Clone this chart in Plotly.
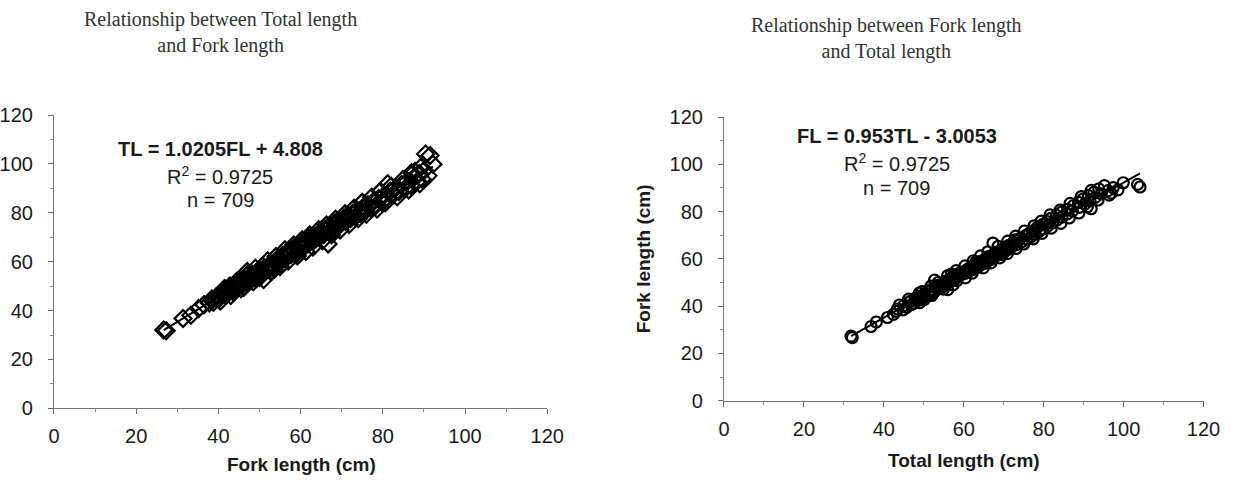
import plotly.graph_objects as go

# Paired measurements (cm): fork length and total length of the same fish
fork_length = [
    26.7, 27.3, 31.4, 33.3, 35.2, 36.5, 37.8, 38.8, 38.4, 39.5,
    40.1, 40.6, 41.2, 41.8, 42.0, 42.5, 43.1, 43.4, 43.9, 44.3,
    44.8, 45.2, 45.6, 46.0, 46.4, 46.9, 47.0, 47.5, 48.0, 48.3,
    48.8, 49.2, 49.7, 50.1, 50.5, 51.0, 51.2, 51.7, 52.1, 52.6,
    53.0, 53.4, 53.9, 54.3, 54.8, 55.2, 55.6, 56.0, 56.4, 56.9,
    57.3, 57.7, 58.1, 58.5, 59.0, 59.4, 59.8, 60.2, 60.7, 61.1,
    61.5, 62.0, 62.4, 62.9, 63.3, 63.8, 64.2, 64.7, 65.1, 65.6,
    66.0, 66.7, 66.9, 67.3, 67.8, 68.3, 68.8, 69.4, 69.9, 70.5,
    71.0, 71.6, 72.1, 72.7, 73.3, 73.9, 74.5, 75.2, 75.8, 76.4,
    77.1, 77.7, 78.4, 79.0, 79.7, 80.3, 81.2, 81.0, 81.8, 82.5,
    83.2, 83.9, 84.6, 85.3, 86.0, 86.8, 87.5, 88.2, 88.9, 89.6,
    90.4, 90.1, 91.0, 91.5, 92.2, 89.2, 87.0, 55.0, 57.5, 60.5,
    62.7, 64.5, 44.0, 46.7, 49.5, 40.5, 41.5, 43.0, 44.5, 45.5,
    47.2, 48.5, 49.0, 50.0, 52.0, 52.8, 54.0, 55.0, 56.2, 57.0,
    58.3, 59.2, 60.4, 61.3, 62.2, 63.0, 64.4, 65.3, 66.3, 67.5,
    68.5, 69.6, 70.8, 71.8, 73.0, 74.0, 75.0, 76.0, 77.3, 78.6,
    79.4, 80.6, 82.0, 83.5, 84.9, 86.3, 87.8, 89.0, 58.8, 61.8,
    64.9, 68.0, 71.3, 74.8, 53.6, 50.8, 46.2, 42.8,
]
total_length = [
    32.1, 31.8, 36.8, 38.1, 40.9, 42.4, 43.1, 43.4, 44.8, 45.7,
    44.9, 46.8, 47.5, 46.3, 46.7, 48.6, 49.2, 47.9, 50.3, 49.1,
    51.4, 50.2, 52.3, 51.1, 52.8, 51.7, 56.0, 53.6, 52.9, 54.8,
    53.5, 55.6, 54.9, 56.4, 55.3, 52.7, 57.4, 56.8, 58.2, 57.3,
    59.1, 58.0, 60.3, 59.2, 61.4, 60.6, 62.5, 61.3, 63.4, 62.2,
    64.1, 63.0, 65.2, 64.3, 65.9, 64.8, 66.9, 65.6, 67.5, 66.4,
    68.3, 67.6, 69.4, 68.2, 70.4, 69.5, 71.3, 70.2, 72.0, 71.1,
    73.2, 67.3, 72.4, 74.6, 73.5, 75.8, 74.2, 76.9, 75.6, 77.8,
    76.5, 78.9, 77.6, 79.8, 78.4, 81.0, 79.7, 82.2, 80.9, 83.3,
    81.8, 84.6, 83.2, 85.9, 84.4, 87.2, 91.9, 86.0, 88.9, 87.4,
    90.3, 88.7, 91.6, 89.8, 92.9, 91.2, 94.4, 92.6, 96.1, 93.8,
    104.1, 97.4, 95.2, 103.5, 99.9, 98.6, 96.4, 61.0, 63.2, 67.2,
    68.9, 70.9, 49.8, 51.9, 55.2, 43.9, 49.0, 46.2, 52.0, 48.9,
    54.9, 51.8, 57.3, 53.6, 60.4, 55.9, 62.1, 58.1, 64.9, 60.3,
    66.8, 62.4, 69.0, 64.2, 70.9, 66.0, 73.1, 68.6, 75.0, 71.0,
    77.4, 73.0, 79.6, 75.2, 81.9, 77.6, 84.3, 79.4, 86.4, 81.6,
    88.8, 84.1, 90.9, 86.6, 93.6, 89.4, 96.9, 91.9, 63.1, 69.6,
    70.6, 72.8, 77.2, 80.6, 56.9, 58.3, 49.6, 50.1,
]

# Regression coefficients and fit statistics
tl_slope, tl_intercept = 1.0205, 4.808
fl_slope, fl_intercept = 0.953, -3.0053
r_squared = 0.9725
n_fish = 709

axis_ticks = [0, 20, 40, 60, 80, 100, 120]

W, H = 1243, 491


def px_x(p):
    return p / W


def px_y(p):
    return (H - p) / H


sans = "Liberation Sans, Arial, sans-serif"
serif = "Liberation Serif, Times New Roman, serif"
ink = "#1a1a1a"

fig = go.Figure()

# Left panel: TL against FL
fig.add_trace(go.Scatter(
    x=fork_length, y=total_length, mode="markers",
    marker=dict(symbol="diamond-open", size=13, color="black",
                line=dict(width=2.2, color="black")),
    xaxis="x", yaxis="y", showlegend=False, hoverinfo="skip"))
fl_ends = [min(fork_length), max(fork_length)]
fig.add_trace(go.Scatter(
    x=fl_ends, y=[tl_slope * v + tl_intercept for v in fl_ends],
    mode="lines", line=dict(color="black", width=2),
    xaxis="x", yaxis="y", showlegend=False, hoverinfo="skip"))

# Right panel: FL against TL
fig.add_trace(go.Scatter(
    x=total_length, y=fork_length, mode="markers",
    marker=dict(symbol="circle-open", size=11, color="black",
                line=dict(width=2.2, color="black")),
    xaxis="x2", yaxis="y2", showlegend=False, hoverinfo="skip"))
tl_ends = [min(total_length), max(total_length)]
fig.add_trace(go.Scatter(
    x=tl_ends, y=[fl_slope * v + fl_intercept for v in tl_ends],
    mode="lines", line=dict(color="black", width=2),
    xaxis="x2", yaxis="y2", showlegend=False, hoverinfo="skip"))


def axis_style(domain, anchor, standoff):
    return dict(
        domain=domain, anchor=anchor, range=[0, 120],
        tickvals=axis_ticks, ticktext=[str(t) for t in axis_ticks],
        ticks="outside", ticklen=5, tickwidth=1, tickcolor="#666",
        minor=dict(tickvals=[10, 30, 50, 70, 90, 110], ticks="outside",
                   ticklen=3, tickcolor="#888"),
        showline=True, linecolor="#777", linewidth=1,
        showgrid=False, zeroline=False,
        tickfont=dict(family=sans, size=20, color=ink),
        ticklabelstandoff=standoff,
    )


fig.update_layout(
    width=W, height=H,
    margin=dict(l=0, r=0, t=0, b=0),
    paper_bgcolor="white", plot_bgcolor="white",
    xaxis=axis_style([px_x(43), px_x(548)], "y", 5),
    yaxis=axis_style([px_y(416), px_y(109)], "x", 11),
    xaxis2=axis_style([px_x(729), px_x(1220)], "y2", 5),
    yaxis2=axis_style([px_y(408), px_y(111)], "x2", 11),
)

annotations = [
    # panel titles
    dict(x=px_x(213), y=px_y(22), text="Relationship between Total length<br>and Fork length",
         font=dict(family=serif, size=20, color="#333")),
    dict(x=px_x(895), y=px_y(29), text="Relationship between Fork length<br>and Total length",
         font=dict(family=serif, size=20, color="#333")),
    # axis titles
    dict(x=px_x(296), y=px_y(475), text="<b>Fork length (cm)</b>",
         font=dict(family=sans, size=19, color=ink)),
    dict(x=px_x(975), y=px_y(471), text="<b>Total length (cm)</b>",
         font=dict(family=sans, size=19, color=ink)),
    dict(x=px_x(646), y=px_y(259), text="<b>Fork length (cm)</b>", textangle=-90,
         font=dict(family=sans, size=19, color=ink)),
    # regression statistics
    dict(x=px_x(213), y=px_y(144),
         text=f"<b>TL = {tl_slope}FL + {tl_intercept}</b>",
         font=dict(family=sans, size=20, color=ink)),
    dict(x=px_x(213), y=px_y(172), text=f"R<sup>2</sup> = {r_squared}",
         font=dict(family=sans, size=20, color=ink)),
    dict(x=px_x(213), y=px_y(198), text=f"n = {n_fish}",
         font=dict(family=sans, size=20, color=ink)),
    dict(x=px_x(906), y=px_y(131),
         text=f"<b>FL = {fl_slope}TL - {abs(fl_intercept)}</b>",
         font=dict(family=sans, size=20, color=ink)),
    dict(x=px_x(906), y=px_y(159), text=f"R<sup>2</sup> = {r_squared}",
         font=dict(family=sans, size=20, color=ink)),
    dict(x=px_x(906), y=px_y(185), text=f"n = {n_fish}",
         font=dict(family=sans, size=20, color=ink)),
]
for a in annotations:
    a.update(xref="paper", yref="paper", showarrow=False,
             xanchor="center", yanchor="middle")
fig.update_layout(annotations=annotations)

fig.write_html("out.html")
